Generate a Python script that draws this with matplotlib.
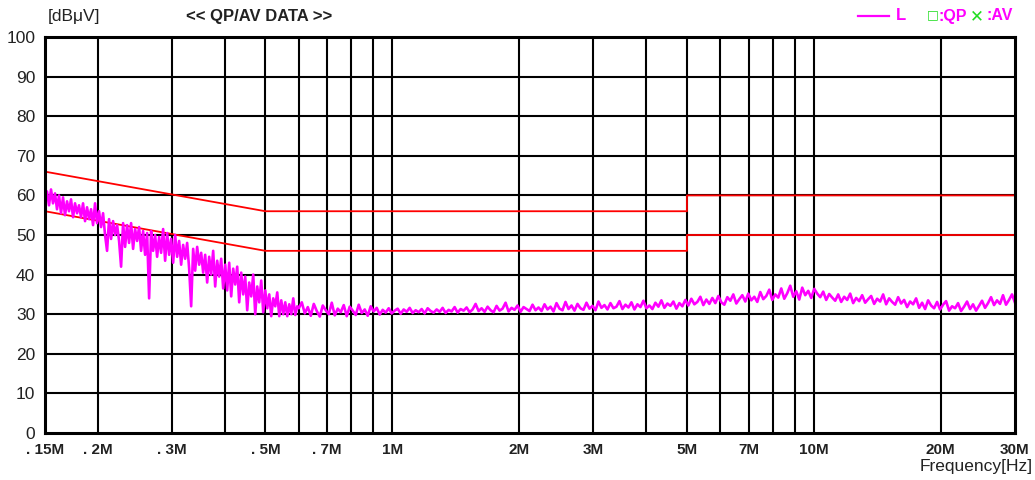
import numpy as np
import matplotlib
matplotlib.use("Agg")
import matplotlib.pyplot as plt
from matplotlib.ticker import FixedLocator, NullFormatter, NullLocator

# ---------------- data ----------------
# Limit lines (frequency in MHz, level in dBuV)
qp_freq = [0.15, 0.5, 5.0, 5.0, 30.0]
qp_level = [66, 56, 56, 60, 60]
av_freq = [0.15, 0.5, 5.0, 5.0, 30.0]
av_level = [56, 46, 46, 50, 50]

# Measured trace, segment A: 0.15 - 0.595 MHz (log-spaced sweep points)
seg_a_range = (0.15, 0.595)
seg_a_level = [
    58, 61, 57.5, 61.5, 58, 60.5, 56.5, 60, 55.5, 59.5,
    55, 58.5, 56, 59, 54.5, 58, 55.5, 57.5, 54.5, 58,
    53.5, 57, 54, 56.5, 52.5, 58, 53, 56, 52, 55.5,
    50, 46, 54, 49, 53.5, 50, 52.5, 48.5, 42, 53,
    47, 52.5, 48, 53, 46.5, 51.5, 48.5, 52, 46, 51,
    45, 50.5, 34, 51, 46, 50, 44.5, 49.5, 45.5, 51.5,
    43.5, 50.5, 45, 49, 43, 50, 44.5, 48.5, 42.5, 47.5,
    44, 48, 41.5, 32, 46.5, 41, 47, 42.5, 45.5, 40.5,
    45, 38, 44.5, 40, 46, 37, 43.5, 39.5, 44, 36.5,
    42.5, 36, 43, 34.5, 41.5, 37.5, 42, 33, 40.5, 35,
    39.5, 31, 38, 34.5, 40, 30, 37, 33, 38.5, 30.5,
    36, 31.5, 35, 29.5, 34, 32, 35.5, 29.5, 33.5, 30,
    33, 29.5, 32.5, 30, 34, 29.8, 32,
]

# Measured trace, segment B: 0.6 - 30 MHz (log-spaced sweep points)
seg_b_range = (0.6, 30.0)
seg_b_level = [
    31.5, 33, 30.2, 31.8, 29.6, 32.6, 30.8, 29.4, 32.2, 31,
    30, 32.9, 29.7, 31.4, 30.5, 32.3, 29.5, 31.9, 30.9, 29.8,
    32.4, 30.3, 31.2, 29.6, 32, 30.7, 31.6, 29.9, 31.1, 30.4,
    31.5, 30.2, 30.9, 31.4, 30.1, 31.2, 30.6, 31.6, 30.3, 31,
    30.5, 31.3, 30.2, 31.5, 30.8, 30.4, 31.2, 30.6, 31.6, 30.3,
    31.1, 30.7, 31.8, 30.4, 31.3, 30.9, 31.7, 30.5, 31.2, 32.6,
    30.8, 31.5, 30.6, 31.9, 31, 30.5, 32.1, 30.9, 31.4, 32.9,
    30.7, 31.6, 31.1, 32.2, 30.6, 31.8, 31.3, 30.8, 32.4, 31,
    31.7, 30.8, 32.5, 31.2, 31.9, 30.7, 32.8, 31.4, 31, 33.1,
    31.3, 32.2, 30.9, 32.6, 31.5, 31.1, 32.9, 31.4, 32.1, 31,
    33.2, 31.6, 32.3, 31.2, 32.8, 31.5, 31.9, 33.3, 31.3, 32.4,
    31.7, 33, 31.2, 32.5, 31.8, 33.4, 31.5, 32.2, 31.3, 32.9,
    31.9, 33.5, 31.6, 32.7, 32.1, 33.2, 31.4, 32.8, 32, 33.6,
    32.2, 33.9, 32.5, 33.1, 34.4, 32.3, 33.7, 32.6, 34.1, 32.8,
    34.6, 33, 32.4, 34.3, 33.4, 35, 32.7, 33.8, 34.8, 33.2,
    35.2, 33.5, 34.4, 33.1, 35.6, 33.8, 34.6, 36.2, 33.6, 35,
    34.2, 36.5, 33.9, 35.3, 37.2, 34.4, 35.8, 33.7, 36.7, 34.8,
    35.9, 34.1, 36.4, 35.2, 34.3, 35.7, 33.6, 35.1, 34.2, 33.4,
    35, 33.1, 34.4, 33.6, 35.2, 32.8, 34.1, 33.3, 34.8, 32.9,
    33.8, 34.6, 32.6, 33.9, 33.2, 35, 32.5, 34, 33.1, 32.4,
    34.3, 32.7, 33.6, 31.8, 33.2, 32.5, 34, 31.6, 32.9, 31.3,
    33.5, 32.2, 31.5, 33.1, 31.2, 32.4, 33.3, 30.9, 32, 31.5,
    32.8, 30.8, 31.9, 33.2, 31.3, 32.5, 30.9, 32.1, 33.4, 31.6,
    32.8, 34.3, 32.3, 33.5, 32.6, 34.8, 32.4, 33.6, 35, 32.9,
]

x_tick_values = [0.15, 0.2, 0.3, 0.5, 0.7, 1, 2, 3, 5, 7, 10, 20, 30]
x_tick_labels = [". 15M", ". 2M", ". 3M", ". 5M", ". 7M", "1M", "2M", "3M",
                 "5M", "7M", "10M", "20M", "30M"]
y_tick_values = list(range(0, 101, 10))

# ---------------- plot ----------------
MAGENTA = "#ff00ff"
RED = "#ff0000"
GREEN = "#22dd22"
FONT = "Liberation Sans"

fig = plt.figure(figsize=(10.35, 4.8), dpi=100)
ax = fig.add_axes([45 / 1035, 1 - 433 / 480, 970 / 1035, 396 / 480])

freq_a = np.geomspace(seg_a_range[0], seg_a_range[1], len(seg_a_level))
freq_b = np.geomspace(seg_b_range[0], seg_b_range[1], len(seg_b_level))
trace_f = np.concatenate([freq_a, freq_b])
trace_v = np.concatenate([seg_a_level, seg_b_level])

ax.set_xscale("log")
ax.set_xlim(0.15, 30)
ax.set_ylim(0, 100)

# grid (all decade multiples)
grid_x = [0.2, 0.3, 0.4, 0.5, 0.6, 0.7, 0.8, 0.9, 1, 2, 3, 4, 5, 6, 7, 8, 9, 10, 20]
for gx in grid_x:
    ax.axvline(gx, color="black", lw=1.5, zorder=1)
for gy in y_tick_values[1:-1]:
    ax.axhline(gy, color="black", lw=1.5, zorder=1)

ax.plot(qp_freq, qp_level, color=RED, lw=1.3, zorder=2)
ax.plot(av_freq, av_level, color=RED, lw=1.3, zorder=2)
ax.plot(trace_f, trace_v, color=MAGENTA, lw=1.9, zorder=3)

ax.xaxis.set_major_locator(FixedLocator(x_tick_values))
ax.xaxis.set_minor_locator(NullLocator())
ax.xaxis.set_minor_formatter(NullFormatter())
ax.set_xticklabels(x_tick_labels, fontsize=11, fontweight="bold",
                   family=FONT, color="#222222")
ax.set_yticks(y_tick_values)
ax.set_yticklabels([str(v) for v in y_tick_values], fontsize=12.5,
                   color="#222222", family=FONT)
ax.tick_params(axis="both", length=0)
ax.tick_params(axis="x", pad=7)
ax.tick_params(axis="y", pad=7)
for sp in ax.spines.values():
    sp.set_linewidth(2.2)
    sp.set_color("black")
    sp.set_zorder(4)

# header texts
fig.text(48 / 1035, 1 - 17 / 480, "[dB\u03bcV]", fontsize=12.5, va="center",
         ha="left", color="#222222", family=FONT)
fig.text(259 / 1035, 1 - 17 / 480, "<< QP/AV DATA >>", fontsize=12,
         fontweight="bold", va="center", ha="center", color="#222222",
         family=FONT)

# legend (top right)
fig.add_artist(plt.Line2D([858 / 1035, 889 / 1035], [1 - 16 / 480, 1 - 16 / 480],
                          color=MAGENTA, lw=1.6, transform=fig.transFigure))
fig.text(896 / 1035, 1 - 16 / 480, "L", fontsize=12, fontweight="bold",
         color=MAGENTA, va="center", ha="left", family=FONT)
fig.text(927 / 1035, 1 - 15 / 480, "\u25a1", fontsize=9, color=GREEN,
         va="center", ha="left", family="DejaVu Sans", fontweight="bold")
fig.text(938 / 1035, 1 - 16 / 480, ":QP", fontsize=11.5, fontweight="bold",
         color=MAGENTA, va="center", ha="left", family=FONT)
fig.text(970 / 1035, 1 - 16 / 480, "\u2715", fontsize=12, color=GREEN,
         va="center", ha="left", family="DejaVu Sans")
fig.text(987 / 1035, 1 - 16 / 480, ":AV", fontsize=11.5, fontweight="bold",
         color=MAGENTA, va="center", ha="left", family=FONT)

fig.text(1033 / 1035, 1 - 467 / 480, "Frequency[Hz]", fontsize=12.5,
         va="center", ha="right", color="#222222", family=FONT)

fig.savefig("out.png", dpi=100, facecolor="white")
